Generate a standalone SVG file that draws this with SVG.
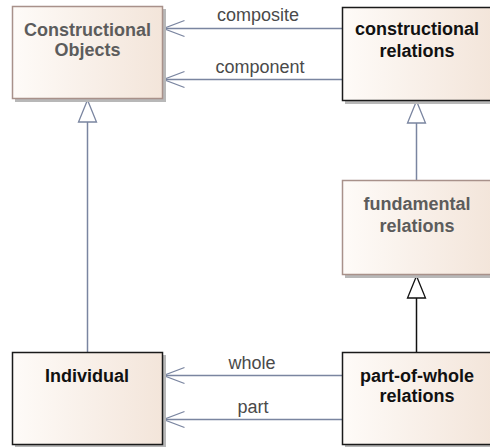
<svg xmlns="http://www.w3.org/2000/svg" width="490" height="447" viewBox="0 0 490 447">
  <defs>
    <linearGradient id="boxFill" x1="0" y1="0" x2="1" y2="0">
      <stop offset="0" stop-color="#fefbf8"/>
      <stop offset="1" stop-color="#f3e5da"/>
    </linearGradient>
    <!-- open arrowhead: tip at refX, arms trailing back along the line -->
    <marker id="openArrow" viewBox="0 0 24 20" refX="23" refY="10" markerWidth="24" markerHeight="20" markerUnits="userSpaceOnUse" orient="auto">
      <path d="M2,2 L23,10 L2,18" fill="none" stroke="#7a85a0" stroke-width="1.3"/>
    </marker>
    <marker id="hollowTri" viewBox="0 0 26 22" refX="24" refY="11" markerWidth="26" markerHeight="22" markerUnits="userSpaceOnUse" orient="auto">
      <path d="M24,11 L2,2 L2,20 Z" fill="#ffffff" stroke="#7a85a0" stroke-width="1.3"/>
    </marker>
    <marker id="hollowTriDark" viewBox="0 0 26 22" refX="24" refY="11" markerWidth="26" markerHeight="22" markerUnits="userSpaceOnUse" orient="auto">
      <path d="M24,11 L2,2 L2,20 Z" fill="#ffffff" stroke="#111111" stroke-width="1.3"/>
    </marker>
  </defs>
  <style>
    .shadow { fill: #b8b8b8; }
    .box { fill: url(#boxFill); stroke-width: 1.5; }
    .strong { stroke: #1a1a1a; }
    .soft { stroke: #a8918a; }
    .title { font-family: "Liberation Sans", Arial, sans-serif; font-size: 18px; font-weight: bold; text-anchor: middle; }
    .dark { fill: #111111; }
    .grey { fill: #5c5c5c; }
    .label { font-family: "Liberation Sans", Arial, sans-serif; font-size: 18px; fill: #4a4a4a; text-anchor: middle; }
    .assoc { stroke: #7a85a0; stroke-width: 1.5; fill: none; }
    .gen { stroke: #7a85a0; stroke-width: 1.5; fill: none; }
    .genDark { stroke: #111111; stroke-width: 1.5; fill: none; }
  </style>

  <!-- connectors -->
  <g id="connectors">
    <line class="assoc" x1="342" y1="28.5" x2="163.5" y2="28.5" marker-end="url(#openArrow)"/>
    <text class="label" x="258" y="21">composite</text>
    <line class="assoc" x1="342" y1="79.5" x2="163.5" y2="79.5" marker-end="url(#openArrow)"/>
    <text class="label" x="260" y="73">component</text>
    <line class="assoc" x1="342" y1="375.5" x2="163.5" y2="375.5" marker-end="url(#openArrow)"/>
    <text class="label" x="252" y="369">whole</text>
    <line class="assoc" x1="342" y1="419.5" x2="163.5" y2="419.5" marker-end="url(#openArrow)"/>
    <text class="label" x="253" y="413">part</text>
    <line class="gen" x1="87.5" y1="352" x2="87.5" y2="100" marker-end="url(#hollowTri)"/>
    <line class="gen" x1="416.5" y1="180" x2="416.5" y2="101" marker-end="url(#hollowTri)"/>
    <line class="genDark" x1="416.5" y1="352" x2="416.5" y2="276" marker-end="url(#hollowTriDark)"/>
  </g>

  <!-- Constructional Objects -->
  <g id="constructional-objects">
    <rect class="shadow" x="15" y="9" width="151" height="93"/>
    <rect class="box soft" x="12.5" y="6.5" width="150" height="92"/>
    <text class="title grey" x="87.5" y="36">Constructional</text>
    <text class="title grey" x="87.5" y="56">Objects</text>
  </g>

  <!-- constructional relations -->
  <g id="constructional-relations">
    <rect class="shadow" x="345" y="10" width="151" height="94"/>
    <rect class="box strong" x="342.5" y="7.5" width="150" height="93"/>
    <text class="title dark" x="417" y="35">constructional</text>
    <text class="title dark" x="417" y="57">relations</text>
  </g>

  <!-- fundamental relations -->
  <g id="fundamental-relations">
    <rect class="shadow" x="345" y="184" width="151" height="94"/>
    <rect class="box soft" x="342.5" y="180.5" width="150" height="94"/>
    <text class="title grey" x="417" y="210">fundamental</text>
    <text class="title grey" x="417" y="232">relations</text>
  </g>

  <!-- Individual -->
  <g id="individual">
    <rect class="shadow" x="15" y="355" width="151" height="93"/>
    <rect class="box strong" x="12.5" y="352.5" width="150" height="92"/>
    <text class="title dark" x="87" y="382">Individual</text>
  </g>

  <!-- part-of-whole relations -->
  <g id="part-of-whole-relations">
    <rect class="shadow" x="345" y="355" width="151" height="93"/>
    <rect class="box strong" x="342.5" y="352.5" width="150" height="92"/>
    <text class="title dark" x="417" y="382">part-of-whole</text>
    <text class="title dark" x="417" y="402">relations</text>
  </g>
</svg>
